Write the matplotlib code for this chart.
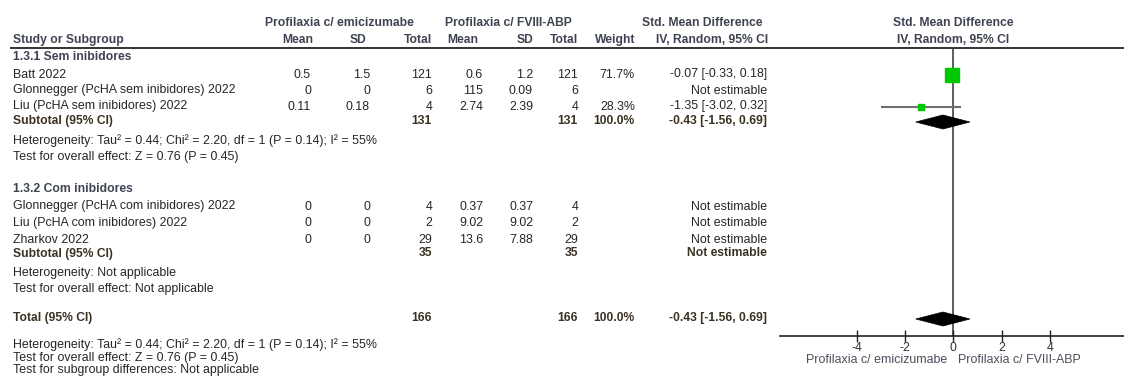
import matplotlib
matplotlib.use("Agg")
import matplotlib.pyplot as plt
from matplotlib.patches import Polygon

plt.rcParams["font.family"] = ["Liberation Sans", "DejaVu Sans"]
plt.rcParams["axes.unicode_minus"] = False

# ---- data -------------------------------------------------------------
g1_label = "1.3.1 Sem inibidores"
g1_studies = ["Batt 2022", "Glonnegger (PcHA sem inibidores) 2022", "Liu (PcHA sem inibidores) 2022"]
g1_mean_e = [0.5, 0, 0.11]
g1_sd_e = [1.5, 0, 0.18]
g1_n_e = [121, 6, 4]
g1_mean_c = [0.6, 115, 2.74]
g1_sd_c = [1.2, 0.09, 2.39]
g1_n_c = [121, 6, 4]
g1_weight = [71.7, None, 28.3]
g1_smd = [-0.07, None, -1.35]
g1_lo = [-0.33, None, -3.02]
g1_hi = [0.18, None, 0.32]
g1_sub = dict(n_e=131, n_c=131, weight=100.0, smd=-0.43, lo=-1.56, hi=0.69)
g1_het = "Heterogeneity: Tau\u00b2 = 0.44; Chi\u00b2 = 2.20, df = 1 (P = 0.14); I\u00b2 = 55%"
g1_test = "Test for overall effect: Z = 0.76 (P = 0.45)"

g2_label = "1.3.2 Com inibidores"
g2_studies = ["Glonnegger (PcHA com inibidores) 2022", "Liu (PcHA com inibidores) 2022", "Zharkov 2022"]
g2_mean_e = [0, 0, 0]
g2_sd_e = [0, 0, 0]
g2_n_e = [4, 2, 29]
g2_mean_c = [0.37, 9.02, 13.6]
g2_sd_c = [0.37, 9.02, 7.88]
g2_n_c = [4, 2, 29]
g2_weight = [None, None, None]
g2_smd = [None, None, None]
g2_lo = [None, None, None]
g2_hi = [None, None, None]
g2_sub = dict(n_e=35, n_c=35, weight=None, smd=None, lo=None, hi=None)
g2_het = "Heterogeneity: Not applicable"
g2_test = "Test for overall effect: Not applicable"

total = dict(n_e=166, n_c=166, weight=100.0, smd=-0.43, lo=-1.56, hi=0.69)
total_het = "Heterogeneity: Tau\u00b2 = 0.44; Chi\u00b2 = 2.20, df = 1 (P = 0.14); I\u00b2 = 55%"
total_test = "Test for overall effect: Z = 0.76 (P = 0.45)"
total_subgroup = "Test for subgroup differences: Not applicable"

arm_e = "Profilaxia c/ emicizumabe"
arm_c = "Profilaxia c/ FVIII-ABP"
x_ticks = [-4, -2, 0, 2, 4]

# ---- layout / style ---------------------------------------------------
W, H = 1124, 376
FS = 8.9
FSB = 8.7
TXT = "#262626"
HDR = "#3e4351"
SUB = "#3b3222"
GREEN = "#00c800"

fig = plt.figure(figsize=(W / 100, H / 100), dpi=100)
bg = fig.add_axes([0, 0, 1, 1])
bg.set_xlim(0, W)
bg.set_ylim(H, 0)
bg.axis("off")

# column right edges (pixels)
X_STUDY = 13
X_MEAN_E, X_SD_E, X_N_E = 311, 370, 432
X_MEAN_C, X_SD_C, X_N_C = 483, 533, 578
X_W, X_CI = 635, 767


def t(x, y, s, ha="left", bold=False, color=TXT):
    bg.text(x, y, s, ha=ha, va="center", fontsize=FSB if bold else FS,
            fontweight="bold" if bold else "normal", color=color)


def num(v):
    return f"{v:g}"


def ci_text(e, lo, hi):
    return f"{e:.2f} [{lo:.2f}, {hi:.2f}]"


# headers
t(339, 23, arm_e, ha="center", bold=True, color=HDR)
t(508, 23, arm_c, ha="center", bold=True, color=HDR)
t(762, 23, "Std. Mean Difference", ha="right", bold=True, color=HDR)
t(X_STUDY, 40, "Study or Subgroup", bold=True, color=HDR)
for x, s in [(313, "Mean"), (366, "SD"), (X_N_E, "Total"), (478, "Mean"),
             (X_SD_C, "SD"), (X_N_C, "Total"), (X_W, "Weight"),
             (768, "IV, Random, 95% CI")]:
    t(x, 40, s, ha="right", bold=True, color=HDR)
bg.plot([10, W], [47.5, 47.5], color="#111111", lw=1.2, solid_capstyle="butt")

# forest panel: x in SMD units, y in pixel rows
AX_TOP, AX_BOT = 47.5, 336
fx = fig.add_axes([780 / W, (H - AX_BOT) / H, (W - 780) / W, (AX_BOT - AX_TOP) / H])
fx.set_xlim(-7.19, 7.08)
fx.set_ylim(AX_BOT, AX_TOP)
fx.patch.set_alpha(0)
for side in ("top", "left", "right"):
    fx.spines[side].set_visible(False)
fx.spines["bottom"].set_color("#222222")
fx.spines["bottom"].set_linewidth(1.2)
fx.set_yticks([])
fx.set_xticks(x_ticks)
fx.set_xticklabels([str(v) for v in x_ticks])
fx.tick_params(axis="x", direction="inout", length=8, width=1, color="#222222",
               labelsize=FS, labelcolor="#333333", pad=0)
fx.axvline(0, color="#333333", lw=1.1, zorder=1)

t(953, 23, "Std. Mean Difference", ha="center", bold=True, color=HDR)
t(953, 40, "IV, Random, 95% CI", ha="center", bold=True, color=HDR)
t(947, 360, arm_e, ha="right", color="#4a4f5c")
t(958, 360, arm_c, ha="left", color="#4a4f5c")

wmax = max(w for w in g1_weight + g2_weight if w is not None)


def diamond(y, e, lo, hi, half=7):
    fx.add_patch(Polygon([(lo, y), (e, y - half), (hi, y), (e, y + half)],
                         closed=True, facecolor="black", edgecolor="black",
                         lw=0.5, zorder=4))


def study_rows(ys, studies, me, se, ne, mc, sc, nc, wt, smd, lo, hi):
    for i, y in enumerate(ys):
        t(X_STUDY, y, studies[i])
        t(X_MEAN_E, y, num(me[i]), ha="right")
        t(X_SD_E, y, num(se[i]), ha="right")
        t(X_N_E, y, str(ne[i]), ha="right")
        t(X_MEAN_C, y, num(mc[i]), ha="right")
        t(X_SD_C, y, num(sc[i]), ha="right")
        t(X_N_C, y, str(nc[i]), ha="right")
        if wt[i] is not None:
            t(X_W, y, f"{wt[i]:.1f}%", ha="right")
            t(X_CI, y, ci_text(smd[i], lo[i], hi[i]), ha="right")
            fx.plot([lo[i], hi[i]], [y, y], color="#707070", lw=1.5,
                    solid_capstyle="butt", zorder=2)
            side = 14 * (wt[i] / wmax) ** 0.75
            fx.plot([smd[i]], [y], marker="s", ms=side * 0.72, color=GREEN,
                    mec=GREEN, zorder=3)
        else:
            t(X_CI, y, "Not estimable", ha="right")


def subtotal_row(y, label, d):
    t(X_STUDY, y, label, bold=True, color=SUB)
    t(X_N_E, y, str(d["n_e"]), ha="right", bold=True, color=SUB)
    t(X_N_C, y, str(d["n_c"]), ha="right", bold=True, color=SUB)
    if d["smd"] is not None:
        t(X_W, y, f"{d['weight']:.1f}%", ha="right", bold=True, color=SUB)
        t(X_CI, y, ci_text(d["smd"], d["lo"], d["hi"]), ha="right", bold=True, color=SUB)
        diamond(y + 1, d["smd"], d["lo"], d["hi"])
    else:
        t(X_CI, y, "Not estimable", ha="right", bold=True, color=SUB)


# subgroup 1
t(X_STUDY, 57, g1_label, bold=True, color=HDR)
study_rows([74.5, 90.5, 106.5], g1_studies, g1_mean_e, g1_sd_e, g1_n_e,
           g1_mean_c, g1_sd_c, g1_n_c, g1_weight, g1_smd, g1_lo, g1_hi)
subtotal_row(121, "Subtotal (95% CI)", g1_sub)
t(X_STUDY, 141, g1_het)
t(X_STUDY, 157, g1_test)

# subgroup 2
t(X_STUDY, 189, g2_label, bold=True, color=HDR)
study_rows([206.5, 223, 240], g2_studies, g2_mean_e, g2_sd_e, g2_n_e,
           g2_mean_c, g2_sd_c, g2_n_c, g2_weight, g2_smd, g2_lo, g2_hi)
subtotal_row(253.5, "Subtotal (95% CI)", g2_sub)
t(X_STUDY, 273, g2_het)
t(X_STUDY, 289, g2_test)

# overall
subtotal_row(318, "Total (95% CI)", total)
t(X_STUDY, 345, total_het)
t(X_STUDY, 358, total_test)
t(X_STUDY, 370, total_subgroup)

fig.savefig("out.png", dpi=100)
